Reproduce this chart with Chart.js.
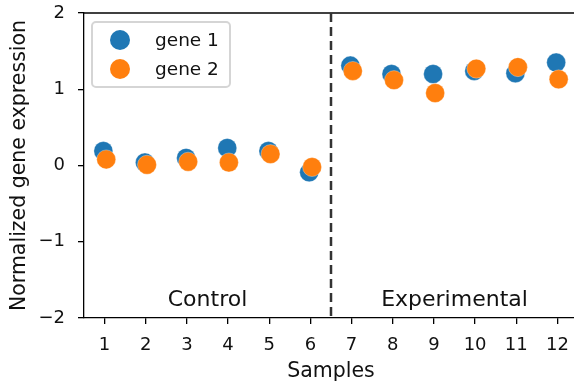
<!DOCTYPE html>
<html>
<head>
<meta charset="utf-8">
<script src="https://cdn.jsdelivr.net/npm/chart.js@4.4.0/dist/chart.umd.min.js"></script>
<style>
  html, body { margin: 0; padding: 0; background: #fff; overflow: hidden; }
  #wrap { width: 574px; height: 385px; overflow: hidden; }
</style>
</head>
<body>
<div id="wrap"><canvas id="geneChart" width="588" height="385"></canvas></div>
<script>
const samples = [1, 2, 3, 4, 5, 6, 7, 8, 9, 10, 11, 12];
// small horizontal offsets seen in the picture
const gene1X = [0.97, 1.98, 2.98, 3.98, 4.98, 5.97, 6.97, 7.97, 8.98, 9.98, 10.98, 11.97];
const gene2X = [1.04, 2.03, 3.03, 4.02, 5.03, 6.04, 7.03, 8.03, 9.03, 10.03, 11.04, 12.03];
const gene1 = [0.19, 0.04, 0.10, 0.23, 0.19, -0.09, 1.31, 1.20, 1.20, 1.24, 1.21, 1.35];
const gene2 = [0.08, 0.01, 0.05, 0.04, 0.15, -0.02, 1.24, 1.12, 0.95, 1.27, 1.29, 1.13];
const groupLabels = ['Control', 'Experimental'];
const groupCenters = [3.5, 9.5];
const dividerX = 6.5;
const yTicks = [-2, -1, 0, 1, 2];

const FONT = 'DejaVu Sans';

const toPoints = (xs, ys) => xs.map((x, i) => ({ x: x, y: ys[i] }));

const extras = {
  id: 'extras',
  afterDatasetsDraw(chart) {
    const { ctx, chartArea, scales } = chart;
    const x = scales.x, y = scales.y;
    ctx.save();
    // top spine
    ctx.strokeStyle = '#000';
    ctx.lineWidth = 1.3;
    ctx.beginPath();
    ctx.moveTo(chartArea.left, chartArea.top);
    ctx.lineTo(chartArea.right, chartArea.top);
    ctx.stroke();
    // dashed divider
    const dx = x.getPixelForValue(dividerX);
    ctx.strokeStyle = '#333';
    ctx.lineWidth = 2.5;
    ctx.setLineDash([9, 5]);
    ctx.beginPath();
    ctx.moveTo(dx, chartArea.top);
    ctx.lineTo(dx, chartArea.bottom);
    ctx.stroke();
    ctx.setLineDash([]);
    // group labels
    ctx.fillStyle = '#111';
    ctx.font = '22px "' + FONT + '"';
    ctx.textAlign = 'center';
    ctx.textBaseline = 'middle';
    groupLabels.forEach((t, i) => {
      ctx.fillText(t, x.getPixelForValue(groupCenters[i]), y.getPixelForValue(-1.77));
    });
    // legend box
    const lx = chartArea.left + 8, ly = chartArea.top + 9, lw = 138, lh = 65;
    ctx.fillStyle = 'rgba(255,255,255,0.8)';
    ctx.strokeStyle = '#d5d5d5';
    ctx.lineWidth = 2;
    ctx.beginPath();
    ctx.roundRect(lx, ly, lw, lh, 4);
    ctx.fill();
    ctx.stroke();
    const names = ['gene 1', 'gene 2'];
    const cols = ['#1f77b4', '#ff7f0e'];
    ctx.font = '18.5px "' + FONT + '"';
    names.forEach((n, i) => {
      const cy = ly + 18 + i * 29;
      ctx.fillStyle = cols[i];
      ctx.beginPath();
      ctx.arc(lx + 28, cy, 10, 0, Math.PI * 2);
      ctx.fill();
      ctx.fillStyle = '#111';
      ctx.textAlign = 'left';
      ctx.fillText(n, lx + 63, cy + 1);
    });
    ctx.restore();
  }
};

new Chart(document.getElementById('geneChart').getContext('2d'), {
  type: 'scatter',
  data: {
    datasets: [
      {
        label: 'gene 1',
        data: toPoints(gene1X, gene1),
        backgroundColor: '#1f77b4',
        borderColor: 'rgba(255,255,255,0.6)',
        borderWidth: 0.5,
        pointRadius: 9.5,
        pointHoverRadius: 9.5,
        order: 1
      },
      {
        label: 'gene 2',
        data: toPoints(gene2X, gene2),
        backgroundColor: '#ff7f0e',
        borderColor: 'rgba(255,255,255,0.6)',
        borderWidth: 0.5,
        pointRadius: 9.5,
        pointHoverRadius: 9.5,
        order: 0
      }
    ]
  },
  options: {
    responsive: false,
    animation: false,
    layout: { padding: { top: 13, right: 0, left: 0, bottom: 0 } },
    plugins: {
      legend: { display: false },
      tooltip: { enabled: false }
    },
    scales: {
      x: {
        type: 'linear',
        min: 0.5,
        max: 12.5,
        afterBuildTicks: (s) => { s.ticks = samples.map(v => ({ value: v })); },
        afterFit: (s) => { s.height = 67; },
        ticks: {
          color: '#111',
          font: { family: FONT, size: 18 },
          padding: 11,
          maxRotation: 0,
          autoSkip: false
        },
        grid: { drawOnChartArea: false, drawTicks: true, tickLength: 6, color: '#000', lineWidth: 1.3 },
        border: { display: true, color: '#000', width: 1.3 },
        title: {
          display: true,
          text: 'Samples',
          color: '#111',
          font: { family: FONT, size: 20.5 },
          padding: { top: 0, bottom: 1 }
        }
      },
      y: {
        min: -2,
        max: 2,
        afterBuildTicks: (s) => { s.ticks = yTicks.map(v => ({ value: v })); },
        afterFit: (s) => { s.width = 84; s.paddingTop = 0; s.paddingBottom = 0; },
        ticks: {
          color: '#111',
          font: { family: FONT, size: 18 },
          padding: 13,
          callback: (v) => String(v).replace('-', '\u2212')
        },
        grid: { drawOnChartArea: false, drawTicks: true, tickLength: 6, color: '#000', lineWidth: 1.3 },
        border: { display: true, color: '#000', width: 1.3 },
        title: {
          display: true,
          text: 'Normalized gene expression',
          color: '#111',
          font: { family: FONT, size: 20.5 },
          padding: { top: 7, bottom: 0 }
        }
      }
    }
  },
  plugins: [extras]
});
</script>
</body>
</html>
